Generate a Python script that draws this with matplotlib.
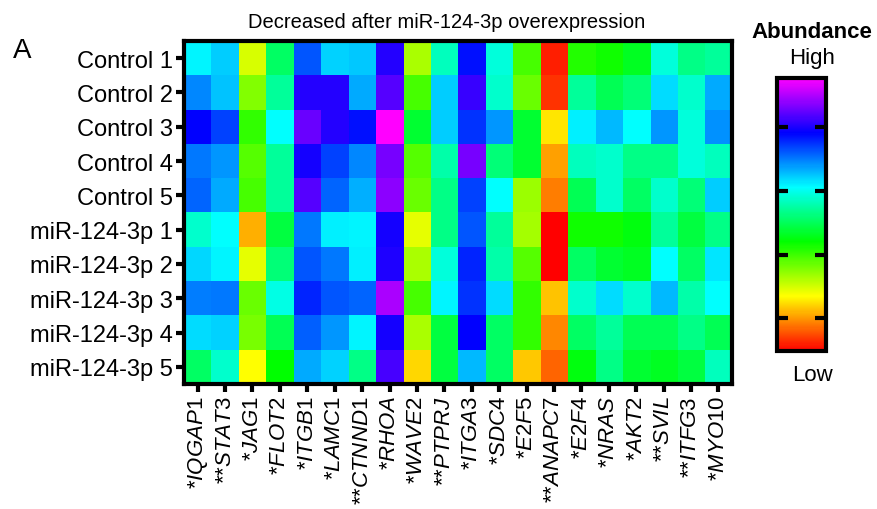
import numpy as np
import matplotlib
matplotlib.use('Agg')
import matplotlib.pyplot as plt
from matplotlib.colors import LinearSegmentedColormap

plt.rcParams['font.family'] = ['Liberation Sans', 'DejaVu Sans']
plt.rcParams['mathtext.fontset'] = 'custom'
plt.rcParams['mathtext.rm'] = 'Liberation Sans'
plt.rcParams['mathtext.it'] = 'Liberation Sans:italic'

# Genes (columns) and samples (rows)
genes = ['IQGAP1', 'STAT3', 'JAG1', 'FLOT2', 'ITGB1', 'LAMC1', 'CTNND1', 'RHOA',
         'WAVE2', 'PTPRJ', 'ITGA3', 'SDC4', 'E2F5', 'ANAPC7', 'E2F4', 'NRAS',
         'AKT2', 'SVIL', 'ITFG3', 'MYO10']
stars = ['*', '**', '*', '*', '*', '*', '**', '*', '*', '**', '*', '*', '*', '**',
         '*', '*', '*', '**', '**', '*']
samples = ['Control 1', 'Control 2', 'Control 3', 'Control 4', 'Control 5',
           'miR-124-3p 1', 'miR-124-3p 2', 'miR-124-3p 3', 'miR-124-3p 4', 'miR-124-3p 5']

# abundance score, 0 = low, 10 = high
control_1 = [6.07, 6.4, 2.33, 4.8, 7.33, 6.33, 6.43, 8.27, 2.67, 5.47, 7.87, 5.73, 3.47, 0.27, 3.73, 3.87, 4.27, 5.73, 5.07, 5.2]
control_2 = [6.93, 6.47, 3.0, 5.2, 8.27, 8.27, 6.67, 8.67, 3.47, 6.4, 8.4, 5.6, 3.2, 0.4, 5.2, 4.67, 4.93, 6.27, 5.6, 6.67]
control_3 = [8.0, 7.47, 3.6, 6.0, 8.8, 8.27, 7.87, 10.0, 4.4, 6.4, 7.6, 6.8, 4.4, 1.8, 6.13, 6.53, 6.0, 6.8, 5.73, 6.87]
control_4 = [7.07, 6.8, 3.33, 5.2, 8.13, 7.47, 6.93, 8.93, 3.33, 5.33, 8.93, 4.93, 4.4, 1.27, 5.47, 5.6, 5.07, 5.07, 5.73, 5.47]
control_5 = [7.2, 6.67, 3.47, 5.2, 8.67, 7.2, 6.63, 9.07, 3.2, 5.07, 7.47, 6.0, 2.8, 1.0, 4.67, 5.6, 4.8, 5.6, 4.93, 6.4]
mir_1 = [5.6, 6.0, 1.4, 4.53, 7.07, 6.13, 6.07, 8.13, 2.2, 5.07, 7.33, 5.2, 2.73, 0.0, 3.87, 3.87, 4.13, 5.2, 4.53, 5.07]
mir_2 = [6.3, 6.07, 2.2, 4.93, 7.33, 7.07, 6.13, 8.23, 2.67, 5.73, 7.73, 5.33, 3.33, 0.0, 4.8, 4.4, 4.27, 6.0, 4.8, 6.2]
mir_3 = [7.0, 7.07, 3.2, 5.8, 7.73, 7.33, 7.2, 9.33, 3.47, 6.07, 7.6, 6.27, 3.6, 1.53, 5.6, 6.27, 5.6, 6.53, 5.33, 6.0]
mir_4 = [6.27, 6.33, 3.07, 4.67, 7.23, 6.8, 6.07, 8.13, 2.67, 4.53, 8.0, 4.8, 3.6, 1.07, 4.8, 5.2, 4.67, 4.67, 5.07, 4.67]
mir_5 = [4.8, 5.6, 2.0, 4.0, 6.67, 6.33, 5.07, 8.53, 1.7, 4.53, 6.53, 4.8, 1.6, 0.8, 4.13, 5.07, 4.4, 4.27, 4.53, 5.47]

data = np.array([control_1, control_2, control_3, control_4, control_5,
                 mir_1, mir_2, mir_3, mir_4, mir_5])

cmap = LinearSegmentedColormap.from_list(
    'abund', ['#ff0000', '#ffff00', '#00ff00', '#00ffff', '#0000ff', '#ff00ff'])

fig = plt.figure(figsize=(8.77, 5.1), dpi=100)
ax = fig.add_axes([0.2098, 0.2451, 0.6249, 0.6725])
im = ax.imshow(data, cmap=cmap, vmin=0, vmax=10, aspect='auto', interpolation='nearest')

ax.set_yticks(range(len(samples)))
ax.set_yticklabels(samples, fontsize=17)
ax.set_xticks(range(len(genes)))
ax.set_xticklabels([s + r'$\mathit{' + g + '}$' for s, g in zip(stars, genes)],
                   rotation=90, fontsize=16, va='top', ha='center')
ax.tick_params(axis='both', length=6, width=3, direction='out', pad=2)
for sp in ax.spines.values():
    sp.set_linewidth(3)

ax.set_title('Decreased after miR-124-3p overexpression', fontsize=14.5, pad=10, x=0.48)
fig.text(0.015, 0.9, 'A', fontsize=20, va='center')

# colorbar
cax = fig.add_axes([0.886, 0.31, 0.056, 0.535])
cb = fig.colorbar(im, cax=cax, ticks=[1.2, 3.5, 5.85, 8.2])
cb.outline.set_linewidth(3)
cax.tick_params(direction='in', length=8, width=3, left=True, right=True,
                labelleft=False, labelright=False)
fig.text(0.926, 0.937, 'Abundance', fontsize=16, fontweight='bold', ha='center', va='center')
fig.text(0.926, 0.885, 'High', fontsize=16, ha='center', va='center')
fig.text(0.926, 0.263, 'Low', fontsize=16, ha='center', va='center')

plt.savefig('out.png', dpi=100)
